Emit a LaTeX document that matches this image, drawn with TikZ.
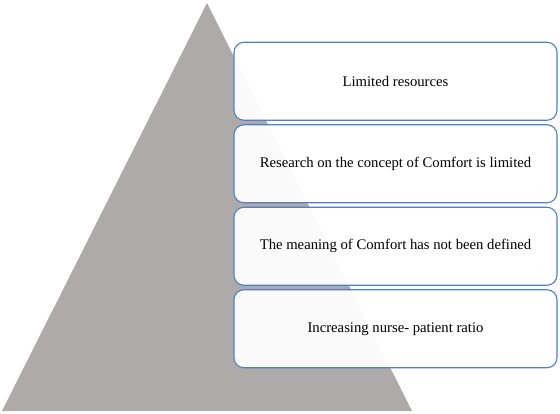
\documentclass[tikz,border=0pt]{standalone}
\usepackage{fontspec}
\setmainfont{Liberation Serif}
\definecolor{tri}{RGB}{174,170,169}
\definecolor{boxline}{RGB}{79,129,200}
\begin{document}
\begin{tikzpicture}[x=1pt,y=-1pt,
  levelbox/.style={draw=boxline, line width=1.1pt, rounded corners=10pt, fill=white, fill opacity=0.95, text opacity=1,
    minimum width=323pt, minimum height=78pt, inner sep=0pt, font=\fontsize{14.7}{17}\selectfont}]
\useasboundingbox (0,0) rectangle (560,413);
\fill[tri] (207,3) coordinate (apex) -- (2,411) coordinate (bl) -- (412,411) coordinate (br) -- cycle;
\node[levelbox] (b1) at (395.5,81.25) {Limited resources};
\node[levelbox] (b2) at (395.5,163.75) {Research on the concept of Comfort is limited};
\node[levelbox] (b3) at (395.5,246.25) {The meaning of Comfort has not been defined};
\node[levelbox] (b4) at (395.5,328.75) {Increasing nurse- patient ratio};
\end{tikzpicture}
\end{document}
